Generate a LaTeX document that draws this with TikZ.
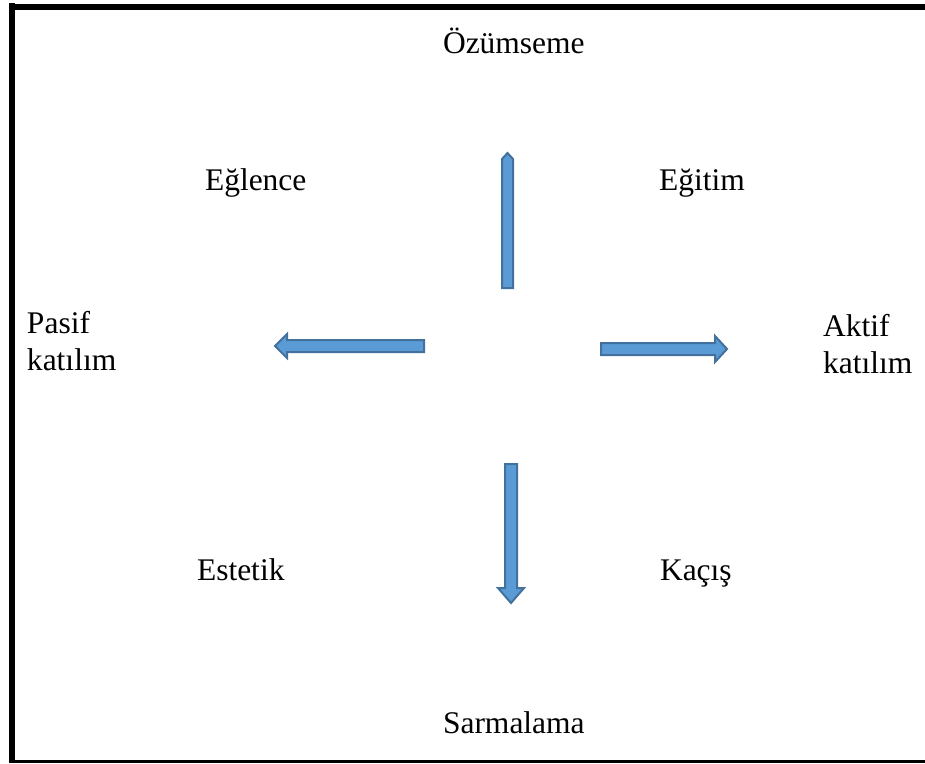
\documentclass[tikz,border=0pt]{standalone}
\usepackage{fontspec}
\setmainfont{Liberation Serif}
\definecolor{arrowfill}{HTML}{5B9BD5}
\definecolor{arrowline}{HTML}{41719C}
\begin{document}
\begin{tikzpicture}[x=1pt,y=-1pt,
  lbl/.style={inner sep=0pt,outer sep=0pt,font=\fontsize{31.5}{37}\selectfont},
  blockarrow/.style={fill=arrowfill,draw=arrowline,line width=2pt,line join=miter},
  frameline/.style={line width=6pt,line cap=butt}]
\useasboundingbox (0,0) rectangle (925,763);

% frame: heavy left and top edges, bottom edge at the lower border
\draw[frameline] (12,3) -- (12,763);
\draw[frameline] (9,7) -- (925,7);
\draw[line width=3pt] (9,761.5) -- (925,761.5);

% labels
\node[lbl,anchor=base west] (ozum) at (443,53) {Özümseme};
\node[lbl,anchor=base west] (eglence) at (205,190) {Eğlence};
\node[lbl,anchor=base west] (egitim) at (659,190) {Eğitim};
\node[lbl,anchor=base west] (pasif) at (27,333) {Pasif};
\node[lbl,anchor=base west] (pasif2) at (27,370) {katılım};
\node[lbl,anchor=base west] (aktif) at (823,336) {Aktif};
\node[lbl,anchor=base west] (aktif2) at (823,373) {katılım};
\node[lbl,anchor=base west] (estetik) at (197,580) {Estetik};
\node[lbl,anchor=base west] (kacis) at (660,580) {Kaçış};
\node[lbl,anchor=base west] (sarma) at (443,733) {Sarmalama};

% block arrows
\draw[blockarrow] (502,288) -- (513,288) -- (513,159) -- (507.5,153) -- (502,159) -- cycle;
\draw[blockarrow] (424,340) -- (424,352) -- (287,352) -- (287,358) -- (275,346)
  -- (287,334) -- (287,340) -- cycle;
\draw[blockarrow] (601,343) -- (715,343) -- (715,336) -- (727,349) -- (715,362)
  -- (715,355) -- (601,355) -- cycle;
\draw[blockarrow] (505,464) -- (517,464) -- (517,588) -- (524,588) -- (511,603)
  -- (498,588) -- (505,588) -- cycle;
\end{tikzpicture}
\end{document}
